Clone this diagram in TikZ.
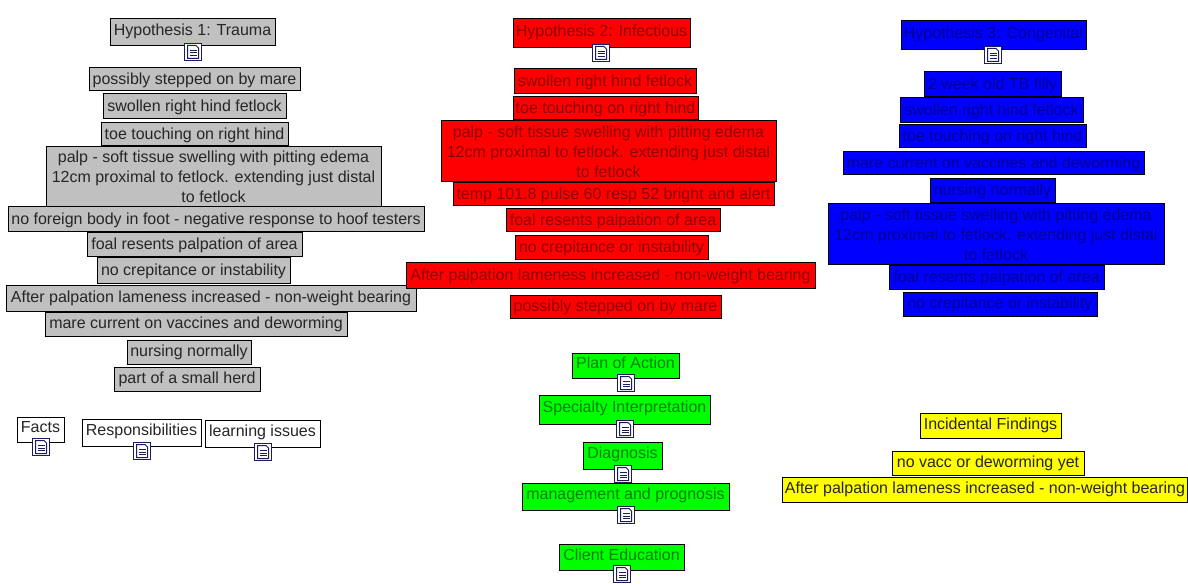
\documentclass[tikz,border=0pt]{standalone}
\usepackage{fontspec}
\setmainfont{Liberation Sans}
\definecolor{IconNavy}{HTML}{1C1C5C}
\definecolor{BoxGrey}{HTML}{C0C0C0}
\definecolor{BoxGreen}{HTML}{00FF00}
\definecolor{BoxYellow}{HTML}{FFFF00}
\definecolor{TextRed}{HTML}{8C0000}
\definecolor{TextGreen}{HTML}{008000}
\definecolor{TextBlue}{HTML}{000090}
\usetikzlibrary{calc}
\tikzset{
  cbox/.style={draw=black, line width=1pt, inner sep=0pt, align=center, text=black!85,
    text height=13.5pt, text depth=4pt, font=\fontsize{16}{20}\selectfont},
  raised/.style={text height=12.3pt, text depth=5.7pt},
  multi/.style={text height={}, text depth={}},
  grey/.style={cbox, fill=BoxGrey},
  redbox/.style={cbox, fill=red, text=TextRed},
  greenbox/.style={cbox, fill=BoxGreen, text=TextGreen, raised},
  bluebox/.style={cbox, fill=blue, text=TextBlue},
  yellowbox/.style={cbox, fill=BoxYellow, text height=13pt, text depth=4.5pt},
  plainbox/.style={cbox, fill=white, raised},
  docicon/.style={draw=IconNavy, line width=1pt, fill=white, inner sep=0pt, minimum size=17pt,
    path picture={
      \draw[IconNavy, line width=1pt]
        ($(path picture bounding box.center)+(-5.5,-6.5)$) -- ++(8.5,0) -- ++(2.5,2.5) -- ++(0,10.5) -- ++(-11,0) -- cycle;
      \draw[IconNavy, line width=1pt]
        ($(path picture bounding box.center)+(-3.5,-1.5)$) -- ++(7,0)
        ($(path picture bounding box.center)+(-3.5,1)$) -- ++(7,0)
        ($(path picture bounding box.center)+(-3.5,3.5)$) -- ++(7,0);
    }},
}
\begin{document}
\begin{tikzpicture}[x=1pt, y=-1pt]
  \useasboundingbox[fill=white] (0,0) rectangle (1188,585);
  % hypothesis 1
  \node[grey, raised, minimum width=165pt, minimum height=27pt] (trauma) at (192.5,32.5) {Hypothesis 1: Trauma};
  \node[docicon] (traumaicon) at (193,52) {};
  \node[grey, minimum width=211pt, minimum height=23pt] (tstepped) at (194.5,79.5) {possibly stepped on by mare};
  \node[grey, minimum width=183pt, minimum height=25pt] (tswollen) at (194.5,106.5) {swollen right hind fetlock};
  \node[grey, minimum width=187pt, minimum height=23pt] (ttoe) at (194.5,134.5) {toe touching on right hind};
  \node[grey, multi, minimum width=335pt, minimum height=60pt] (tpalp) at (213.5,177) {palp - soft tissue swelling with pitting edema\\12cm proximal to fetlock. extending just distal\\to fetlock};
  \node[grey, minimum width=416pt, minimum height=25pt] (tforeign) at (216,219.5) {no foreign body in foot - negative response to hoof testers};
  \node[grey, minimum width=215pt, minimum height=24pt] (tfoal) at (194.5,245) {foal resents palpation of area};
  \node[grey, minimum width=193pt, minimum height=25pt] (tcrep) at (193.5,270.5) {no crepitance or instability};
  \node[grey, minimum width=410pt, minimum height=26pt] (tafter) at (211,298) {After palpation lameness increased - non-weight bearing};
  \node[grey, minimum width=302pt, minimum height=24pt] (tmare) at (196,324) {mare current on vaccines and deworming};
  \node[grey, minimum width=124pt, minimum height=24pt] (tnursing) at (189,352) {nursing normally};
  \node[grey, minimum width=146pt, minimum height=24pt] (therd) at (187,379) {part of a small herd};
  % white boxes
  \node[plainbox, minimum width=47pt, minimum height=25pt] (facts) at (40.5,429.5) {Facts};
  \node[docicon] (factsicon) at (41,447) {};
  \node[plainbox, minimum width=119pt, minimum height=27pt] (resp) at (141.5,432.5) {Responsibilities};
  \node[docicon] (respicon) at (142,451) {};
  \node[plainbox, minimum width=115pt, minimum height=27pt] (issues) at (262.5,433.5) {learning issues};
  \node[docicon] (issuesicon) at (263,452) {};
  % hypothesis 2
  \node[redbox, raised, minimum width=177pt, minimum height=29pt] (infect) at (601.5,33.5) {Hypothesis 2: Infectious};
  \node[docicon] (infecticon) at (601,53) {};
  \node[redbox, minimum width=182pt, minimum height=25pt] (iswollen) at (605,81.5) {swollen right hind fetlock};
  \node[redbox, minimum width=185pt, minimum height=23pt] (itoe) at (605.5,108.5) {toe touching on right hind};
  \node[redbox, multi, minimum width=335pt, minimum height=61pt] (ipalp) at (608.5,151.5) {palp - soft tissue swelling with pitting edema\\12cm proximal to fetlock. extending just distal\\to fetlock};
  \node[redbox, minimum width=321pt, minimum height=23pt] (itemp) at (613.5,194.5) {temp 101.8 pulse 60 resp 52 bright and alert};
  \node[redbox, minimum width=214pt, minimum height=23pt] (ifoal) at (613,220.5) {foal resents palpation of area};
  \node[redbox, minimum width=193pt, minimum height=24pt] (icrep) at (611.5,248) {no crepitance or instability};
  \node[redbox, minimum width=409pt, minimum height=25pt] (iafter) at (610.5,275.5) {After palpation lameness increased - non-weight bearing};
  \node[redbox, minimum width=211pt, minimum height=23pt] (istepped) at (615.5,306.5) {possibly stepped on by mare};
  % hypothesis 3
  \node[bluebox, raised, minimum width=185pt, minimum height=29pt] (congen) at (993.5,35.5) {Hypothesis 3: Congenital};
  \node[docicon] (congenicon) at (993,55) {};
  \node[bluebox, minimum width=137pt, minimum height=25pt] (cweek) at (992.5,84.5) {2 week old TB filly};
  \node[bluebox, minimum width=183pt, minimum height=25pt] (cswollen) at (991.5,110.5) {swollen right hind fetlock};
  \node[bluebox, minimum width=187pt, minimum height=23pt] (ctoe) at (992.5,136.5) {toe touching on right hind};
  \node[bluebox, minimum width=301pt, minimum height=23pt] (cmare) at (993.5,163.5) {mare current on vaccines and deworming};
  \node[bluebox, minimum width=125pt, minimum height=24pt] (cnursing) at (992.5,191) {nursing normally};
  \node[bluebox, multi, minimum width=336pt, minimum height=61pt] (cpalp) at (996,234.5) {palp - soft tissue swelling with pitting edema\\12cm proximal to fetlock. extending just distal\\to fetlock};
  \node[bluebox, minimum width=215pt, minimum height=23pt] (cfoal) at (996.5,277.5) {foal resents palpation of area};
  \node[bluebox, minimum width=194pt, minimum height=24pt] (ccrep) at (1000,304) {no crepitance or instability};
  % plan of action column
  \node[greenbox, minimum width=107pt, minimum height=25pt] (plan) at (625.5,365.5) {Plan of Action};
  \node[docicon] (planicon) at (626,383) {};
  \node[greenbox, minimum width=171pt, minimum height=29pt] (spec) at (624.5,409.5) {Specialty Interpretation};
  \node[docicon] (specicon) at (625,429) {};
  \node[greenbox, minimum width=79pt, minimum height=27pt] (diag) at (622.5,455.5) {Diagnosis};
  \node[docicon] (diagicon) at (623,474) {};
  \node[greenbox, minimum width=207pt, minimum height=27pt] (manage) at (625.5,496.5) {management and prognosis};
  \node[docicon] (manageicon) at (626,515) {};
  \node[greenbox, minimum width=125pt, minimum height=26pt] (client) at (621.5,557) {Client Education};
  \node[docicon] (clienticon) at (622,574) {};
  % incidental findings
  \node[yellowbox, minimum width=141pt, minimum height=25pt] (incid) at (990.5,425.5) {Incidental Findings};
  \node[yellowbox, minimum width=192pt, minimum height=24pt] (novacc) at (988,463) {no vacc or deworming yet};
  \node[yellowbox, minimum width=405pt, minimum height=25pt] (yafter) at (985,489.5) {After palpation lameness increased - non-weight bearing};
\end{tikzpicture}
\end{document}
